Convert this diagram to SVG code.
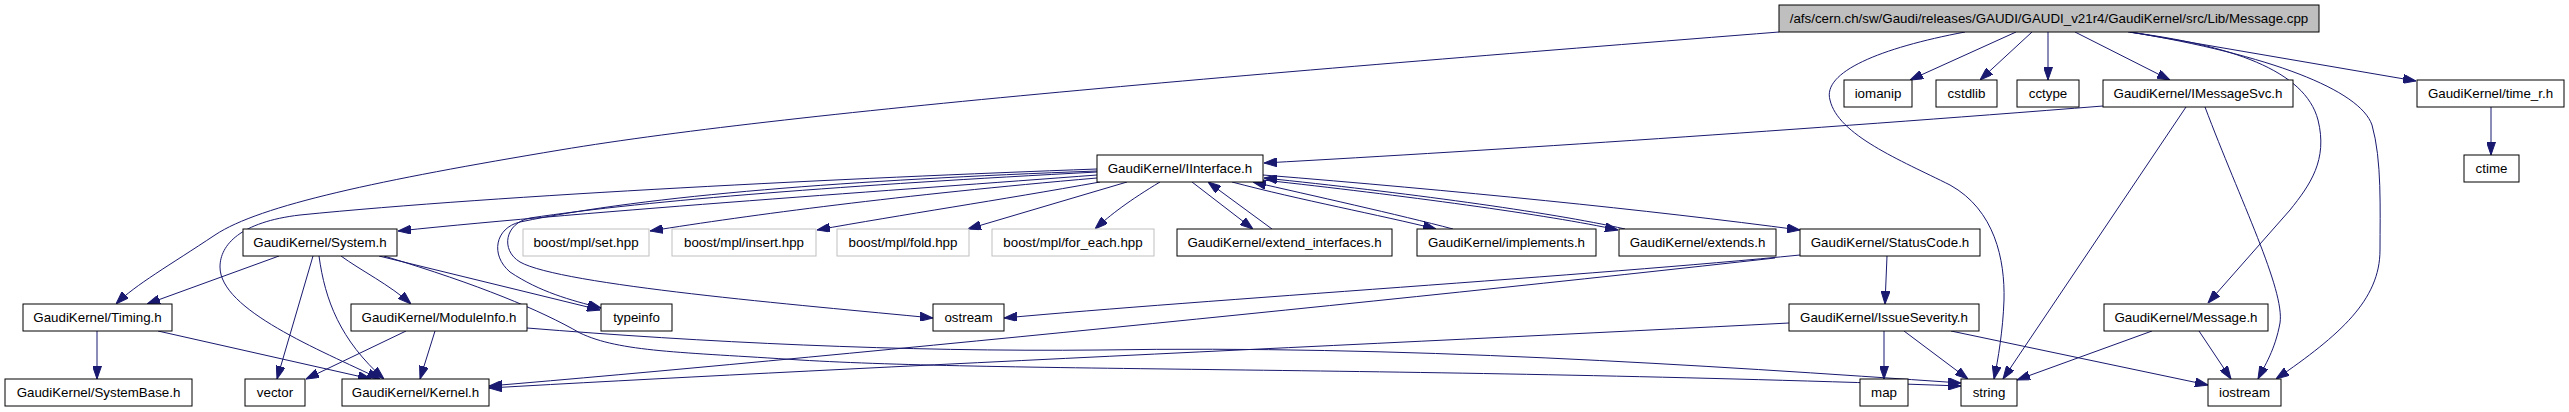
<svg xmlns="http://www.w3.org/2000/svg" width="2569" height="412" viewBox="0 0 2569 412">
<style>
.n{fill:#ffffff;stroke:#000000;stroke-width:1}
.g{fill:#ffffff;stroke:#bfbfbf;stroke-width:1}
.r{fill:#bfbfbf;stroke:#000000;stroke-width:1}
.t{font-family:"Liberation Sans",Arial,Helvetica,sans-serif;font-size:13.33px;text-anchor:middle;fill:#000000}
.e{fill:none;stroke:#191970;stroke-width:1;marker-end:url(#a)}
</style>
<defs>
<marker id="a" markerWidth="13" markerHeight="9" refX="13" refY="4.5" orient="auto" markerUnits="userSpaceOnUse">
<path d="M0,0 L13,4.5 L0,9 z" fill="#191970" stroke="#191970" stroke-width="1"/>
</marker>
</defs>
<rect width="2569" height="412" fill="#ffffff"/>
<g id="edges">
<path class="e" d="M2016,32 L1910,80"/>
<path class="e" d="M2032,32 L1980,80"/>
<path class="e" d="M2048,32 L2048,80"/>
<path class="e" d="M2075,32 L2170,80"/>
<path class="e" d="M2130,32 L2416,81"/>
<path class="e" d="M1965,32 C1880,48 1822,72 1830,100 C1838,135 1900,160 1950,185 C1995,210 2005,260 2004,300 C2003,330 1998,360 1994,379"/>
<path class="e" d="M2186,107 L2003,379"/>
<path class="e" d="M2128,32 C2230,45 2305,70 2318,120 C2328,160 2310,185 2290,210 L2208,303"/>
<path class="e" d="M2130,32 C2270,55 2360,90 2372,125 C2382,160 2380,210 2380,250 C2380,300 2340,335 2276,379"/>
<path class="e" d="M1779,32 C1300,70 800,110 560,150 C380,180 260,205 215,235 C170,265 135,285 116,304"/>
<path class="e" d="M1097,175 C900,190 600,210 398,231"/>
<path class="e" d="M1097,169 C850,178 500,195 300,215 C240,222 220,245 220,267 C220,310 320,350 380,379"/>
<path class="e" d="M1097,171 C850,180 650,195 520,222 C495,228 490,255 510,272 C540,292 570,300 601,308"/>
<path class="e" d="M1097,172 C850,185 650,200 530,218 C505,223 500,250 520,262 C560,285 800,305 933,318"/>
<path class="e" d="M1097,178 C900,195 750,215 650,231"/>
<path class="e" d="M1100,182 C1000,200 900,215 817,230"/>
<path class="e" d="M1127,182 L968,229"/>
<path class="e" d="M1160,182 C1130,200 1110,215 1095,229"/>
<path class="e" d="M1192,182 L1253,229"/>
<path class="e" d="M1272,229 L1208,182"/>
<path class="e" d="M1232,182 C1300,200 1380,215 1436,229"/>
<path class="e" d="M1453,229 C1400,215 1310,195 1253,182"/>
<path class="e" d="M1263,180 C1400,195 1550,215 1618,230"/>
<path class="e" d="M1625,229 C1550,212 1400,192 1264,178"/>
<path class="e" d="M1263,175 C1450,190 1650,210 1800,230"/>
<path class="e" d="M2103,106 C1800,130 1500,150 1264,163"/>
<path class="e" d="M2205,107 C2240,200 2285,290 2280,323 C2275,350 2265,365 2258,379"/>
<path class="e" d="M2491,107 L2491,155"/>
<path class="e" d="M279,256 L147,304"/>
<path class="e" d="M313,256 L277,379"/>
<path class="e" d="M319,256 C325,300 340,340 384,379"/>
<path class="e" d="M341,256 C360,270 390,285 411,304"/>
<path class="e" d="M379,256 L600,310"/>
<path class="e" d="M384,256 C480,285 540,310 580,333 C620,352 680,352 800,360 C1000,372 1400,366 1961,386"/>
<path class="e" d="M97,331 L97,379"/>
<path class="e" d="M158,331 L371,379"/>
<path class="e" d="M406,331 L306,379"/>
<path class="e" d="M435,331 L420,379"/>
<path class="e" d="M527,328 C700,342 900,352 1100,350 C1400,345 1700,365 1961,383"/>
<path class="e" d="M1887,256 L1885,304"/>
<path class="e" d="M1800,255 C1600,275 1200,300 1004,318"/>
<path class="e" d="M1775,258 C1400,300 800,360 489,386"/>
<path class="e" d="M1789,323 C1400,343 800,370 489,388"/>
<path class="e" d="M1884,331 L1884,379"/>
<path class="e" d="M1904,331 L1968,379"/>
<path class="e" d="M1951,331 L2208,385"/>
<path class="e" d="M2152,331 L2017,380"/>
<path class="e" d="M2199,331 L2231,379"/>
</g>
<g id="n_root"><rect class="r" x="1779" y="5" width="540" height="27"/><text class="t" x="2049" y="23">/afs/cern.ch/sw/Gaudi/releases/GAUDI/GAUDI_v21r4/GaudiKernel/src/Lib/Message.cpp</text></g>
<g id="n_iomanip"><rect class="n" x="1844" y="80" width="68" height="27"/><text class="t" x="1878" y="98">iomanip</text></g>
<g id="n_cstdlib"><rect class="n" x="1936" y="80" width="61" height="27"/><text class="t" x="1966.5" y="98">cstdlib</text></g>
<g id="n_cctype"><rect class="n" x="2017" y="80" width="62" height="27"/><text class="t" x="2048" y="98">cctype</text></g>
<g id="n_imessagesvc"><rect class="n" x="2103" y="80" width="190" height="27"/><text class="t" x="2198" y="98">GaudiKernel/IMessageSvc.h</text></g>
<g id="n_time_r"><rect class="n" x="2417" y="80" width="147" height="27"/><text class="t" x="2490.5" y="98">GaudiKernel/time_r.h</text></g>
<g id="n_iinterface"><rect class="n" x="1097" y="155" width="166" height="27"/><text class="t" x="1180" y="173">GaudiKernel/IInterface.h</text></g>
<g id="n_ctime"><rect class="n" x="2464" y="155" width="55" height="27"/><text class="t" x="2491.5" y="173">ctime</text></g>
<g id="n_system"><rect class="n" x="243" y="229" width="154" height="27"/><text class="t" x="320" y="247">GaudiKernel/System.h</text></g>
<g id="n_set"><rect class="g" x="523" y="229" width="126" height="27"/><text class="t" x="586" y="247">boost/mpl/set.hpp</text></g>
<g id="n_insert"><rect class="g" x="672" y="229" width="144" height="27"/><text class="t" x="744" y="247">boost/mpl/insert.hpp</text></g>
<g id="n_fold"><rect class="g" x="837" y="229" width="132" height="27"/><text class="t" x="903" y="247">boost/mpl/fold.hpp</text></g>
<g id="n_for_each"><rect class="g" x="992" y="229" width="162" height="27"/><text class="t" x="1073" y="247">boost/mpl/for_each.hpp</text></g>
<g id="n_extend_interfaces"><rect class="n" x="1177" y="229" width="215" height="27"/><text class="t" x="1284.5" y="247">GaudiKernel/extend_interfaces.h</text></g>
<g id="n_implements"><rect class="n" x="1417" y="229" width="179" height="27"/><text class="t" x="1506.5" y="247">GaudiKernel/implements.h</text></g>
<g id="n_extends"><rect class="n" x="1619" y="229" width="157" height="27"/><text class="t" x="1697.5" y="247">GaudiKernel/extends.h</text></g>
<g id="n_statuscode"><rect class="n" x="1800" y="229" width="180" height="27"/><text class="t" x="1890" y="247">GaudiKernel/StatusCode.h</text></g>
<g id="n_timing"><rect class="n" x="23" y="304" width="149" height="27"/><text class="t" x="97.5" y="322">GaudiKernel/Timing.h</text></g>
<g id="n_moduleinfo"><rect class="n" x="351" y="304" width="176" height="27"/><text class="t" x="439" y="322">GaudiKernel/ModuleInfo.h</text></g>
<g id="n_typeinfo"><rect class="n" x="601" y="304" width="71" height="27"/><text class="t" x="636.5" y="322">typeinfo</text></g>
<g id="n_ostream"><rect class="n" x="933" y="304" width="71" height="27"/><text class="t" x="968.5" y="322">ostream</text></g>
<g id="n_issueseverity"><rect class="n" x="1789" y="304" width="190" height="27"/><text class="t" x="1884" y="322">GaudiKernel/IssueSeverity.h</text></g>
<g id="n_message"><rect class="n" x="2104" y="304" width="164" height="27"/><text class="t" x="2186" y="322">GaudiKernel/Message.h</text></g>
<g id="n_systembase"><rect class="n" x="5" y="379" width="187" height="27"/><text class="t" x="98.5" y="397">GaudiKernel/SystemBase.h</text></g>
<g id="n_vector"><rect class="n" x="245" y="379" width="60" height="27"/><text class="t" x="275" y="397">vector</text></g>
<g id="n_kernel"><rect class="n" x="342" y="379" width="147" height="27"/><text class="t" x="415.5" y="397">GaudiKernel/Kernel.h</text></g>
<g id="n_map"><rect class="n" x="1860" y="379" width="48" height="27"/><text class="t" x="1884" y="397">map</text></g>
<g id="n_string"><rect class="n" x="1961" y="379" width="56" height="27"/><text class="t" x="1989" y="397">string</text></g>
<g id="n_iostream"><rect class="n" x="2208" y="379" width="73" height="27"/><text class="t" x="2244.5" y="397">iostream</text></g>
</svg>
